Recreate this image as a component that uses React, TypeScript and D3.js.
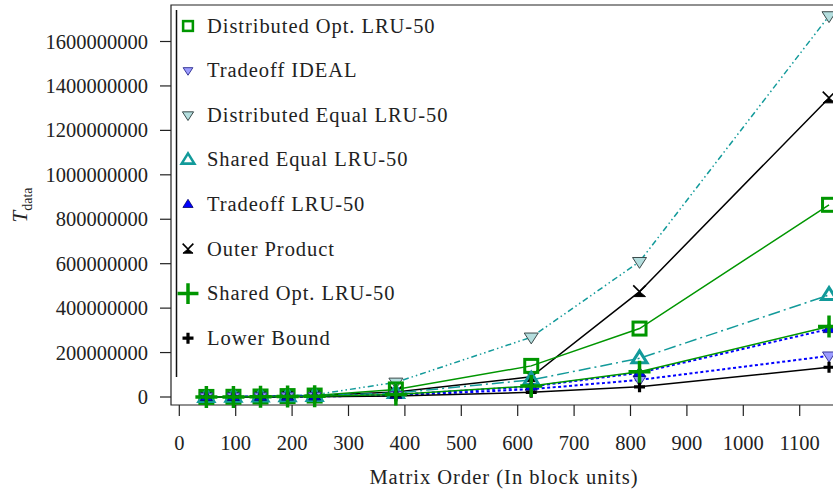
import React from "react";
import * as d3 from "d3";

const matrixOrders = [48, 96, 144, 192, 240, 384, 624, 816, 1152];
// values in millions
const distOptLRU = [0.3, 1.0, 2.3, 4.1, 6.5, 34, 140, 308, 865];
const tradeoffIdeal = [0.1, 0.4, 0.8, 1.5, 2.3, 7, 35, 77, 185];
const distEqualLRU = [0.4, 1.6, 3.6, 6.4, 10, 66, 269, 609, 1715];
const sharedEqualLRU = [0.2, 0.8, 1.8, 3.2, 5, 18, 77, 174, 459];
const tradeoffLRU = [0.1, 0.5, 1.1, 2.0, 3.1, 10, 47, 109, 306];
const outerProduct = [0.3, 1.1, 2.4, 4.3, 7, 22, 91, 474, 1346];
const sharedOptLRU = [0.1, 0.5, 1.2, 2.1, 3.3, 11, 50, 114, 317];
const lowerBound = [0.05, 0.2, 0.5, 0.9, 1.4, 5, 21, 46, 134];

const xTicks = [0, 100, 200, 300, 400, 500, 600, 700, 800, 900, 1000, 1100];
const yTicks = [0, 200000000, 400000000, 600000000, 800000000, 1000000000, 1200000000, 1400000000, 1600000000];

const GREEN = "#009600";
const TEAL = "#129a9a";
const BLUE = "#0000ff";

type Marker = "square" | "downLightBlue" | "downTeal" | "upOpen" | "upBlue" | "hourglass" | "bigPlus" | "smallPlus";

interface Series {
  name: string;
  values: number[];
  color: string;
  dash: string | null;
  width: number;
  marker: Marker;
}

const legendSeries: Series[] = [
  { name: "Distributed Opt. LRU-50", values: distOptLRU, color: GREEN, dash: null, width: 1.5, marker: "square" },
  { name: "Tradeoff IDEAL", values: tradeoffIdeal, color: BLUE, dash: "3,2.5", width: 2, marker: "downLightBlue" },
  { name: "Distributed Equal LRU-50", values: distEqualLRU, color: TEAL, dash: "6,3,1.5,3,1.5,3", width: 1.5, marker: "downTeal" },
  { name: "Shared Equal LRU-50", values: sharedEqualLRU, color: TEAL, dash: "12,4,2,4", width: 1.5, marker: "upOpen" },
  { name: "Tradeoff LRU-50", values: tradeoffLRU, color: BLUE, dash: "3,2.5", width: 2, marker: "upBlue" },
  { name: "Outer Product", values: outerProduct, color: "#000000", dash: null, width: 1.5, marker: "hourglass" },
  { name: "Shared Opt. LRU-50", values: sharedOptLRU, color: GREEN, dash: null, width: 1.5, marker: "bigPlus" },
  { name: "Lower Bound", values: lowerBound, color: "#000000", dash: null, width: 1.5, marker: "smallPlus" },
];

const drawOrder = [2, 5, 0, 3, 1, 4, 7, 6];

function MarkerShape({ type, cx, cy, k }: { type: Marker; cx: number; cy: number; k: number }) {
  switch (type) {
    case "square": {
      const s = 6.5 * k;
      return <rect x={cx - s} y={cy - s} width={2 * s} height={2 * s} fill="none" stroke={GREEN} strokeWidth={3 * Math.max(k, 0.85)} />;
    }
    case "downLightBlue": {
      const s = 6.5 * k;
      return <path d={`M${cx - s},${cy - s * 0.6}L${cx + s},${cy - s * 0.6}L${cx},${cy + s * 0.95}Z`} fill="#9c9cff" stroke="#3a3a9a" strokeWidth={1} />;
    }
    case "downTeal": {
      const s = 7 * k;
      return <path d={`M${cx - s},${cy - s * 0.6}L${cx + s},${cy - s * 0.6}L${cx},${cy + s * 0.95}Z`} fill="#b4dede" stroke="#3a4a4a" strokeWidth={1} />;
    }
    case "upOpen": {
      const s = 7.5 * k;
      return <path d={`M${cx - s},${cy + s * 0.6}L${cx + s},${cy + s * 0.6}L${cx},${cy - s * 1.0}Z`} fill="none" stroke={TEAL} strokeWidth={3 * Math.max(k, 0.85)} strokeLinejoin="miter" />;
    }
    case "upBlue": {
      const s = 6 * k;
      return <path d={`M${cx - s},${cy + s * 0.6}L${cx + s},${cy + s * 0.6}L${cx},${cy - s * 1.0}Z`} fill={BLUE} stroke="#000066" strokeWidth={0.8} />;
    }
    case "hourglass": {
      const s = 7 * k;
      return (
        <g>
          <path d={`M${cx - s * 0.9},${cy - s * 0.9}L${cx},${cy}L${cx + s * 0.9},${cy - s * 0.9}`} fill="none" stroke="#000" strokeWidth={1.6} />
          <path d={`M${cx},${cy}L${cx + s * 0.85},${cy + s * 0.7}L${cx - s * 0.85},${cy + s * 0.7}Z`} fill="#000" stroke="#000" strokeWidth={1} />
        </g>
      );
    }
    case "bigPlus": {
      const s = 11 * k;
      return <path d={`M${cx - s},${cy}L${cx + s},${cy}M${cx},${cy - s}L${cx},${cy + s}`} stroke={GREEN} strokeWidth={3.5} />;
    }
    case "smallPlus": {
      const s = 5.5 * k;
      return <path d={`M${cx - s},${cy}L${cx + s},${cy}M${cx},${cy - s}L${cx},${cy + s}`} stroke="#000" strokeWidth={3.2} />;
    }
  }
  return null;
}

const legendK: Record<Marker, number> = {
  square: 0.75,
  downLightBlue: 0.75,
  downTeal: 0.8,
  upOpen: 0.85,
  upBlue: 0.85,
  hourglass: 0.85,
  bigPlus: 0.95,
  smallPlus: 1,
};

export default function App() {
  const W = 833;
  const H = 492;
  const left = 171;
  const top = 5;
  const bottom = 405;
  const right = 860;

  const x = d3.scaleLinear().domain([0, 1100]).range([179.3, 799.7]);
  const y = d3.scaleLinear().domain([0, 1600000000]).range([397, 41.5]);

  const line = d3
    .line<[number, number]>()
    .x((d) => x(d[0]))
    .y((d) => y(d[1] * 1e6));

  const font = "'Liberation Serif', 'Times New Roman', serif";
  const legendRowY = d3.range(legendSeries.length).map((i) => 26 + i * 44.6);

  return (
    <svg width={W} height={H} style={{ position: "absolute", left: 0, top: 0, background: "#fff" }} fontFamily={font}>
      <rect x={0} y={0} width={W} height={H} fill="#fff" />
      {/* frame */}
      <path d={`M${right},${top}L${left},${top}L${left},${bottom}L${right},${bottom}`} fill="none" stroke="#222" strokeWidth={1.2} />
      {/* x ticks */}
      {xTicks.map((t) => (
        <g key={"xt" + t}>
          <line x1={x(t)} x2={x(t)} y1={bottom} y2={bottom + 11} stroke="#222" strokeWidth={1.2} />
          <text x={x(t)} y={450} textAnchor="middle" fontSize={20.5} fill="#222">
            {t}
          </text>
        </g>
      ))}
      {/* y ticks */}
      {yTicks.map((t) => (
        <g key={"yt" + t}>
          <line x1={left - 11} x2={left} y1={y(t)} y2={y(t)} stroke="#222" strokeWidth={1.2} />
          <text x={148} y={y(t) + 7} textAnchor="end" fontSize={20.5} fill="#222">
            {t}
          </text>
        </g>
      ))}
      {/* axis titles */}
      <text x={504} y={484} textAnchor="middle" fontSize={20.5} fill="#222" letterSpacing={1}>
        Matrix Order (In block units)
      </text>
      <text transform="translate(27,205) rotate(-90)" textAnchor="middle" fontSize={21} fill="#222">
        <tspan fontStyle="italic">T</tspan>
        <tspan fontSize={14} dy={5}>data</tspan>
      </text>
      {/* lines */}
      <g>
        {drawOrder.map((i) => {
          const s = legendSeries[i];
          const pts = matrixOrders.map((m, j) => [m, s.values[j]] as [number, number]);
          return (
            <path
              key={"l" + i}
              d={line(pts) || ""}
              fill="none"
              stroke={s.color}
              strokeWidth={s.width}
              strokeDasharray={s.dash || undefined}
            />
          );
        })}
      </g>
      {/* markers */}
      <g>
        {drawOrder.map((i) => {
          const s = legendSeries[i];
          return (
            <g key={"m" + i}>
              {matrixOrders.map((m, j) => (
                <MarkerShape key={j} type={s.marker} cx={x(m)} cy={y(s.values[j] * 1e6)} k={1} />
              ))}
            </g>
          );
        })}
      </g>
      {/* legend */}
      <line x1={176.5} x2={176.5} y1={10} y2={377} stroke="#111" strokeWidth={1.5} />
      {legendSeries.map((s, i) => (
        <g key={"lg" + i}>
          <MarkerShape type={s.marker} cx={188} cy={legendRowY[i]} k={legendK[s.marker]} />
          <text x={207} y={legendRowY[i] + 6.5} fontSize={20.5} fill="#222" letterSpacing={0.95}>
            {s.name}
          </text>
        </g>
      ))}
    </svg>
  );
}
